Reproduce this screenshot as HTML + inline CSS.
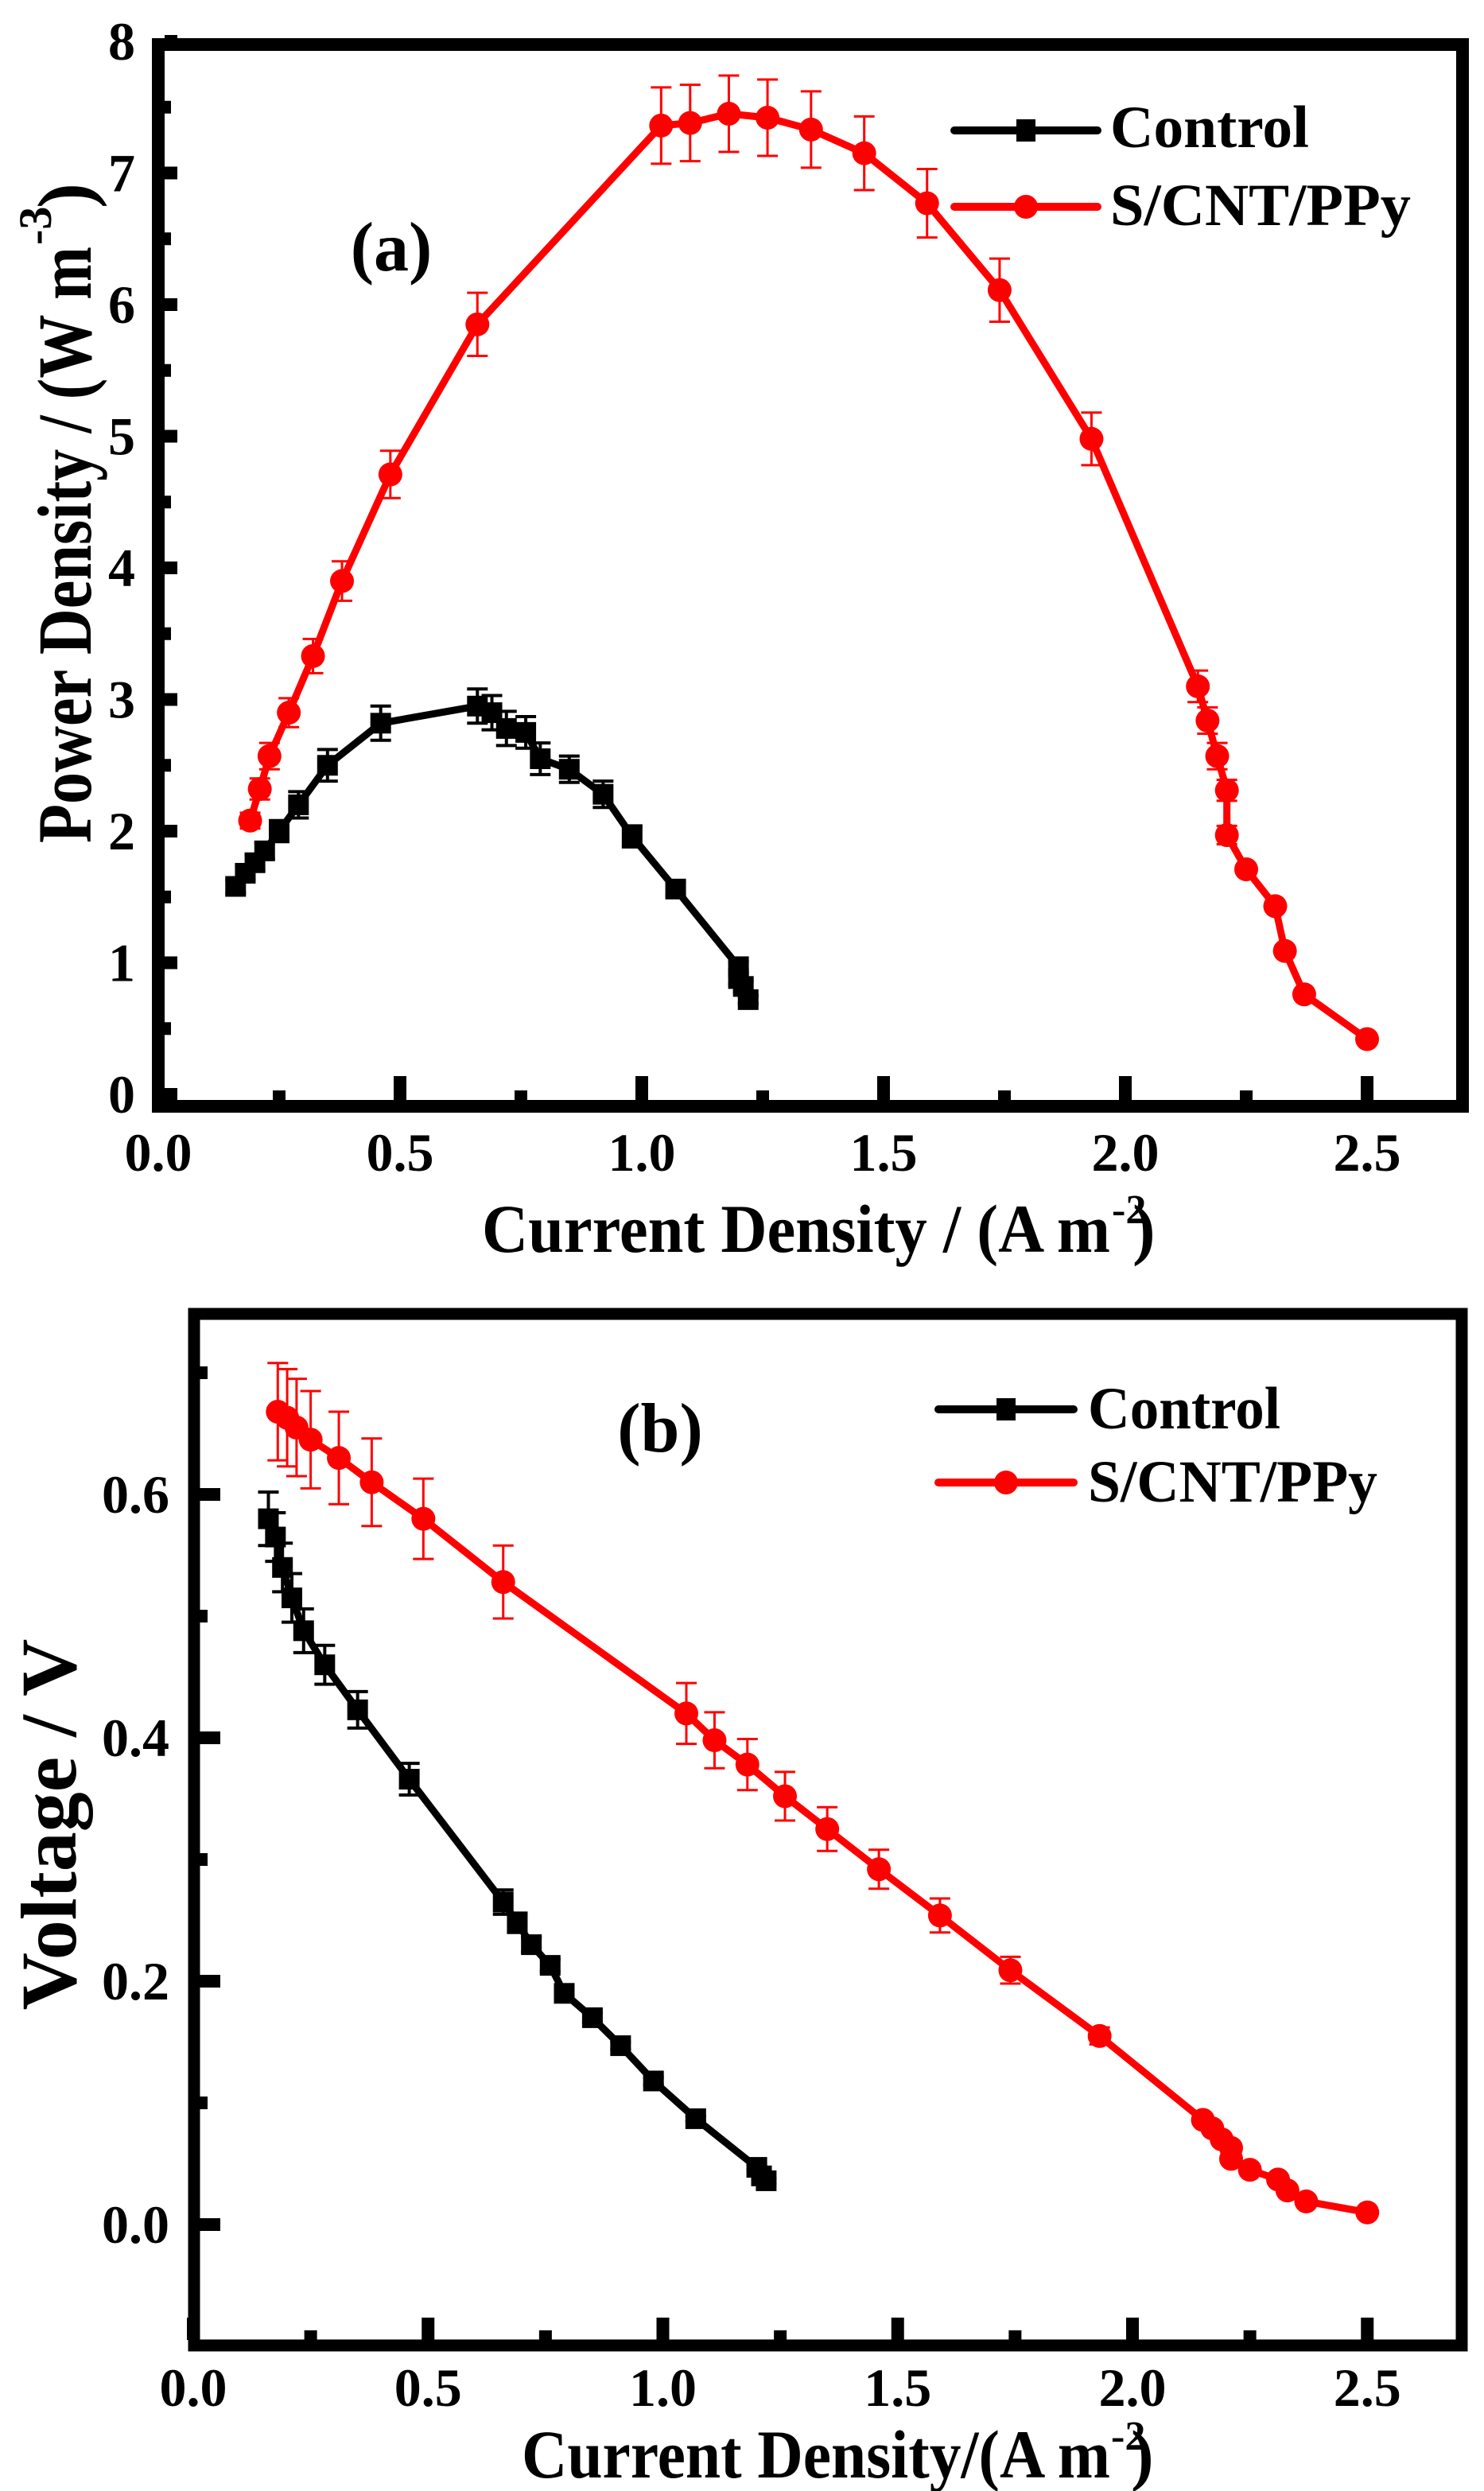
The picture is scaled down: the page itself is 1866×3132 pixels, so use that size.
<!DOCTYPE html>
<html><head><meta charset="utf-8">
<style>
html,body{margin:0;padding:0;background:#fff;}
svg{display:block;}
text{font-family:"Liberation Serif",serif;font-weight:bold;fill:#000;}
</style></head>
<body>
<svg id="s" width="1866" height="3132" viewBox="0 0 1866 3132" xmlns="http://www.w3.org/2000/svg">
<rect width="1866" height="3132" fill="#fff"/>
<rect x="199" y="56" width="1640" height="1335" fill="none" stroke="#000" stroke-width="16"/>
<rect x="244" y="1652" width="1594" height="1297" fill="none" stroke="#000" stroke-width="15"/>
<g id="g"></g>
<text x="492" y="340" font-size="88" text-anchor="middle">(a)</text>
<text x="1396" y="185" font-size="75" textLength="250" lengthAdjust="spacingAndGlyphs">Control</text>
<text x="1396" y="283" font-size="75" textLength="378" lengthAdjust="spacingAndGlyphs">S/CNT/PPy</text>
<text x="606" y="1574" font-size="86" textLength="790" lengthAdjust="spacingAndGlyphs">Current Density / (A m</text>
<text x="1398" y="1538" font-size="52">-2</text>
<text x="1424" y="1574" font-size="86">)</text>
<text transform="translate(114,1060) rotate(-90)" font-size="96" textLength="750" lengthAdjust="spacingAndGlyphs">Power Density / (W m</text>
<text transform="translate(64,308) rotate(-90)" font-size="58">-3</text>
<text transform="translate(114,262) rotate(-90)" font-size="96">)</text>
<text x="830" y="1825" font-size="88" text-anchor="middle">(b)</text>
<text x="1368" y="1796" font-size="75" textLength="242" lengthAdjust="spacingAndGlyphs">Control</text>
<text x="1368" y="1888" font-size="75" textLength="364" lengthAdjust="spacingAndGlyphs">S/CNT/PPy</text>
<text x="656" y="3115" font-size="86" textLength="740" lengthAdjust="spacingAndGlyphs">Current Density/(A m</text>
<text x="1397" y="3080" font-size="52">-2</text>
<text x="1422" y="3115" font-size="86">)</text>
<text transform="translate(95,2294) rotate(-90)" font-size="100" text-anchor="middle">Voltage / V</text>
</svg>
<script>
var NS="http://www.w3.org/2000/svg",G=document.getElementById("g");
function el(t,a){var e=document.createElementNS(NS,t);for(var k in a)e.setAttribute(k,a[k]);G.appendChild(e);return e;}
function txt(x,y,s,anchor,fs){var e=el("text",{x:x,y:y,"font-size":fs||68,"text-anchor":anchor});e.textContent=s;}
var A={x0:199,sx:608,y0:1376,sy:165.5};
var B={x0:243,sx:590.5,y0:2797,sy:1530};
function px(P,x){return P.x0+P.sx*x;} function py(P,y){return P.y0-P.sy*y;}
for(var i=0;i<=10;i++){var v=i*0.25,X=px(A,v),maj=i%2==0;
 el("rect",{x:X-8,y:1383-(maj?30:12),width:16,height:maj?30:12,fill:"#000"});
 if(maj) txt(X,1472,v.toFixed(1),"middle");}
for(var i=0;i<=16;i++){var v=i*0.5,Y=py(A,v),maj=i%2==0;
 el("rect",{x:207,y:Y-8,width:maj?16:8,height:16,fill:"#000"});
 if(maj) txt(170,Y+23,String(v),"end");}
for(var i=0;i<=10;i++){var v=i*0.25,X=px(B,v),maj=i%2==0;
 el("rect",{x:X-8,y:2942-(maj?28:12),width:16,height:maj?28:12,fill:"#000"});
 if(maj) txt(X,3025,v.toFixed(1),"middle");}
for(var i=-1;i<=7;i++){var v=i*0.1,Y=py(B,v),maj=(i%2==0);
 if(Y<1665||Y>2940)continue;
 el("rect",{x:251,y:Y-8,width:maj?26:10,height:16,fill:"#000"});
 if(maj) txt(213,Y+23,v.toFixed(1),"end");}
var cA=[[0.16,1.58,.05],[0.18,1.68,.05],[0.20,1.76,.06],[0.22,1.85,.06],[0.25,2.0,.08],[0.29,2.2,.1],[0.35,2.5,.12],[0.46,2.82,.13],[0.66,2.95,.13],[0.69,2.9,.13],[0.72,2.78,.13],[0.76,2.75,.12],[0.79,2.55,.12],[0.85,2.47,.1],[0.92,2.28,.1],[0.98,1.96,.08],[1.07,1.56,.05],[1.2,0.97,.04],[1.2,0.88,.04],[1.21,0.82,.04],[1.22,0.72,.03]];
var rA=[[0.19,2.08,.06],[0.21,2.32,.08],[0.23,2.57,.1],[0.27,2.9,.11],[0.32,3.33,.13],[0.38,3.9,.15],[0.48,4.71,.18],[0.66,5.85,.24],[1.04,7.36,.29],[1.1,7.38,.29],[1.18,7.45,.29],[1.26,7.42,.29],[1.35,7.33,.29],[1.46,7.15,.28],[1.59,6.77,.26],[1.74,6.11,.24],[1.93,4.98,.2],[2.15,3.1,.12],[2.17,2.84,.1],[2.19,2.57,.1],[2.21,2.31,.08],[2.21,1.97,.07],[2.25,1.71,0],[2.31,1.43,0],[2.33,1.09,0],[2.37,0.76,0],[2.5,0.42,0]];
var cB=[[0.16,0.58,.022],[0.175,0.565,.02],[0.19,0.54,.02],[0.21,0.515,.02],[0.235,0.488,.018],[0.28,0.46,.016],[0.35,0.423,.015],[0.46,0.366,.013],[0.66,0.265,.01],[0.69,0.248,.008],[0.72,0.23,.006],[0.76,0.213,.005],[0.79,0.19,.004],[0.85,0.17,.004],[0.91,0.147,.003],[0.98,0.118,.003],[1.07,0.087,.002],[1.2,0.047,.002],[1.21,0.04,.002],[1.22,0.036,.002]];
var rB=[[0.18,0.668,.04],[0.2,0.663,.04],[0.22,0.655,.04],[0.25,0.645,.04],[0.31,0.63,.038],[0.38,0.61,.036],[0.49,0.58,.033],[0.66,0.528,.03],[1.05,0.42,.025],[1.11,0.398,.023],[1.18,0.378,.021],[1.26,0.352,.02],[1.35,0.325,.018],[1.46,0.292,.016],[1.59,0.254,.014],[1.74,0.209,.011],[1.93,0.155,.007],[2.15,0.086,.004],[2.17,0.079,.003],[2.19,0.07,.003],[2.21,0.063,.003],[2.21,0.054,.003],[2.25,0.045,.002],[2.31,0.037,.002],[2.33,0.028,.002],[2.37,0.019,.002],[2.5,0.01,.002]];
function series(P,d,col,sq){
 var pts=d.map(function(p){return px(P,p[0])+","+py(P,p[1]);}).join(" ");
 el("polyline",{points:pts,fill:"none",stroke:col,"stroke-width":9,"stroke-linejoin":"round"});
 d.forEach(function(p){var X=px(P,p[0]),Y=py(P,p[1]);
  if(sq) el("rect",{x:X-13,y:Y-13,width:26,height:26,fill:col});
  else el("circle",{cx:X,cy:Y,r:15,fill:col});});
 d.forEach(function(p){if(!p[2])return;var X=px(P,p[0]),a=py(P,p[1]+p[2]),b=py(P,p[1]-p[2]);
  var w=sq?4:3;
  el("path",{d:"M"+X+" "+a+"V"+b+"M"+(X-13)+" "+a+"H"+(X+13)+"M"+(X-13)+" "+b+"H"+(X+13),stroke:col,"stroke-width":w,fill:"none"});});
}
series(A,cA,"#000",true);series(A,rA,"#f00",false);
series(B,cB,"#000",true);series(B,rB,"#f00",false);
function leg(x1,x2,y,col,sq){el("line",{x1:x1,y1:y,x2:x2,y2:y,stroke:col,"stroke-width":10,"stroke-linecap":"round"});
 var m=(x1+x2)/2; if(sq) el("rect",{x:m-12,y:y-14,width:24,height:28,fill:col}); else el("circle",{cx:m,cy:y,r:15,fill:col});}
leg(1200,1380,164,"#000",true);leg(1200,1380,260,"#f00",false);
leg(1180,1350,1772,"#000",true);leg(1180,1350,1864,"#f00",false);
</script>
</body></html>
